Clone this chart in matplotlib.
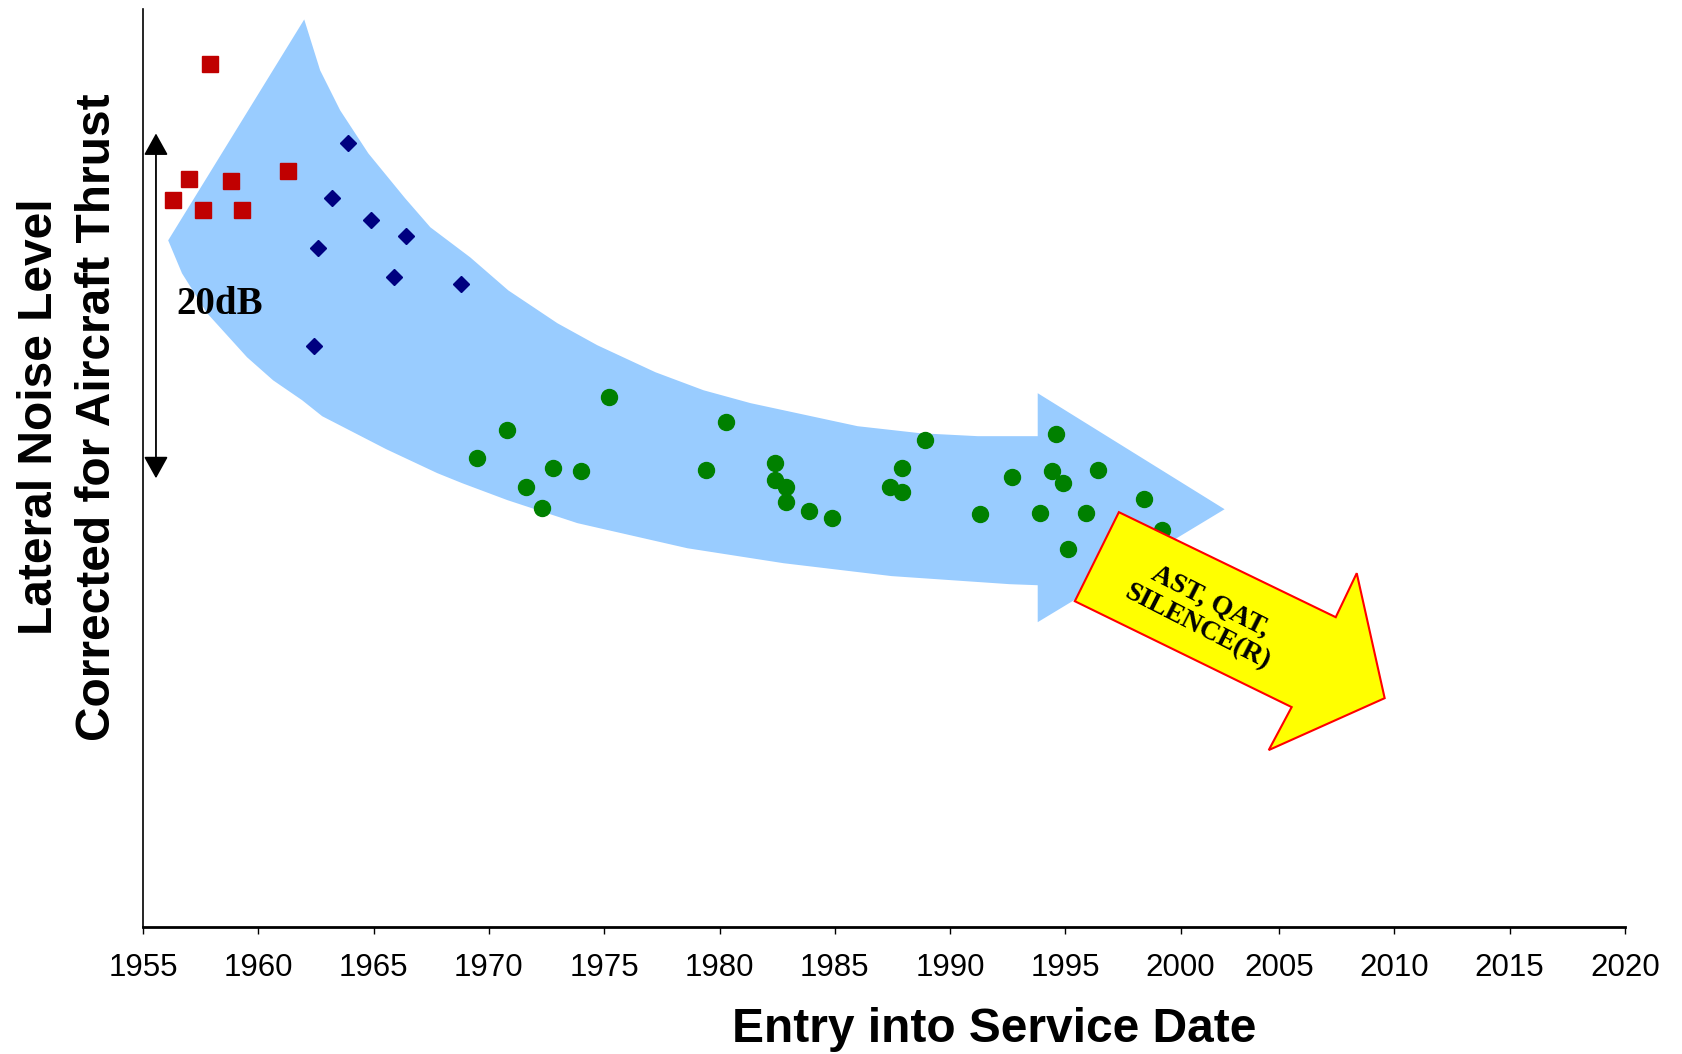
import numpy as np
import matplotlib.pyplot as plt
from matplotlib.patches import Polygon

# data (years / dB above axis bottom)
red_years = [1957.9, 1957.0, 1956.3, 1957.6, 1958.8, 1959.3, 1961.3]
red_db = [50.2, 43.5, 42.3, 41.7, 43.4, 41.7, 44.0]

blue_years = [1963.9, 1963.2, 1964.9, 1966.4, 1962.6, 1965.9, 1968.8, 1962.4]
blue_db = [45.6, 42.4, 41.1, 40.2, 39.5, 37.8, 37.4, 33.8]

green_years = [1969.5, 1970.8, 1971.6, 1972.3, 1972.8, 1974.0, 1975.2, 1979.4,
               1980.3, 1982.4, 1982.4, 1982.9, 1982.9, 1983.9, 1984.9, 1987.4,
               1987.9, 1987.9, 1988.9, 1991.3, 1992.7, 1993.9, 1994.4, 1994.6,
               1994.9, 1995.1, 1995.9, 1996.4, 1998.4, 1999.2]
green_db = [27.3, 28.9, 25.6, 24.4, 26.7, 26.5, 30.8, 26.6,
            29.4, 27.0, 26.0, 25.6, 24.7, 24.2, 23.8, 25.6,
            26.7, 25.3, 28.3, 24.0, 26.2, 24.1, 26.5, 28.7,
            25.8, 22.0, 24.1, 26.6, 24.9, 23.1]

# outline of the light blue trend band
band_years = [1961.99, 1962.68, 1963.55, 1964.77, 1966.37, 1967.46, 1969.19,
              1970.84, 1972.97, 1974.70, 1977.22, 1979.31, 1981.35, 1985.99,
              1988.72, 1991.20, 1993.80, 1993.80, 2002.24, 1993.80, 1993.80,
              1992.59, 1987.47, 1982.78, 1978.61, 1973.84, 1970.80, 1968.85,
              1967.76, 1965.55, 1962.77, 1961.90, 1960.64, 1959.51, 1957.78,
              1956.69, 1956.09]
band_db = [52.79, 49.83, 47.5, 45.0, 42.38, 40.7, 38.95,
           37.03, 35.12, 33.84, 32.27, 31.22, 30.47, 29.13,
           28.72, 28.55, 28.55, 31.05, 24.30, 17.73, 19.88,
           19.94, 20.41, 21.16, 22.03, 23.49, 24.83, 25.81,
           26.4, 27.79, 29.71, 30.64, 31.80, 33.14, 35.70,
           38.02, 39.94]

# yellow future arrow
future_years = [1997.32, 2007.47, 2008.38, 2009.59, 2004.49, 2005.56, 1995.41]
future_db = [24.13, 18.02, 20.58, 13.31, 10.29, 12.79, 18.95]

tick_years = list(range(1955, 2021, 5))
span_years = 1955.56
span_db = [46.16, 26.1]

# the original date axis is not quite even: 2000-2005 is squeezed
axis_knots = [1955, 2000, 2005, 2020]
axis_pos = [0.0, 1037.0, 1135.0, 1481.0]


def fwd(x):
    return np.interp(x, axis_knots, axis_pos)


def inv(p):
    return np.interp(p, axis_pos, axis_knots)


fig = plt.figure(figsize=(16.83, 10.54), dpi=100)
ax = fig.add_axes([0.085, 0.1205, 0.8805, 0.871])
ax.set_xscale('function', functions=(fwd, inv))

# band + arrow shapes
ax.add_patch(Polygon(list(zip(band_years, band_db)), closed=True,
                     facecolor='#99CCFF', edgecolor='none', zorder=1))
ax.add_patch(Polygon(list(zip(future_years, future_db)), closed=True,
                     facecolor='#FFFF00', edgecolor='#FF0000', lw=1.5, zorder=4))

# aircraft generations
ax.plot(red_years, red_db, ls='none', marker='s', ms=11.5,
        mfc='#C00000', mec='#C00000', zorder=3)
ax.plot(blue_years, blue_db, ls='none', marker='D', ms=8,
        mfc='#000080', mec='#000080', zorder=3)
ax.plot(green_years, green_db, ls='none', marker='o', ms=11.5,
        mfc='#008000', mec='#008000', zorder=3)

# 20 dB scale arrow
ax.annotate('', xy=(span_years, span_db[0]), xytext=(span_years, span_db[1]),
            arrowprops=dict(arrowstyle='<|-|>,head_length=1.35,head_width=0.75',
                            mutation_scale=10, color='black', lw=1.3,
                            shrinkA=0, shrinkB=0), zorder=5)
ax.text(1958.34, 36.2, '20dB', fontsize=28, fontweight='bold',
        family='Liberation Serif', ha='center', va='center', zorder=5)

ax.text(2001.17, 18.2, 'AST, QAT,\nSILENCE(R)', fontsize=20, fontweight='bold',
        family='Liberation Serif', ha='center', va='center', rotation=-27,
        rotation_mode='anchor', linespacing=1.2, zorder=5)

ax.set_xlim(1955, 2020)
ax.set_ylim(0, 53.4)
ax.set_xticks(tick_years)
ax.set_xticklabels([str(t) for t in tick_years], family='Liberation Sans', fontsize=22.5)
ax.xaxis.set_minor_locator(plt.NullLocator())
ax.set_yticks([])
ax.tick_params(axis='x', direction='out', length=5, width=1, pad=14)

ax.spines['top'].set_visible(False)
ax.spines['right'].set_visible(False)
ax.spines['left'].set_linewidth(1.2)
ax.spines['bottom'].set_linewidth(2)

# axis titles
fig.text(994 / 1683, 1 - 1042 / 1054, 'Entry into Service Date', fontsize=34.5,
         fontweight='bold', family='Liberation Sans', ha='center', va='baseline')
fig.text(52 / 1683, 1 - 417 / 1054, 'Lateral Noise Level', fontsize=34.5,
         fontweight='bold', family='Liberation Sans', rotation=90,
         rotation_mode='anchor', ha='center', va='baseline')
fig.text(110 / 1683, 1 - 417 / 1054, 'Corrected for Aircraft Thrust', fontsize=34.5,
         fontweight='bold', family='Liberation Sans', rotation=90,
         rotation_mode='anchor', ha='center', va='baseline')

fig.savefig('out.png', dpi=100)
